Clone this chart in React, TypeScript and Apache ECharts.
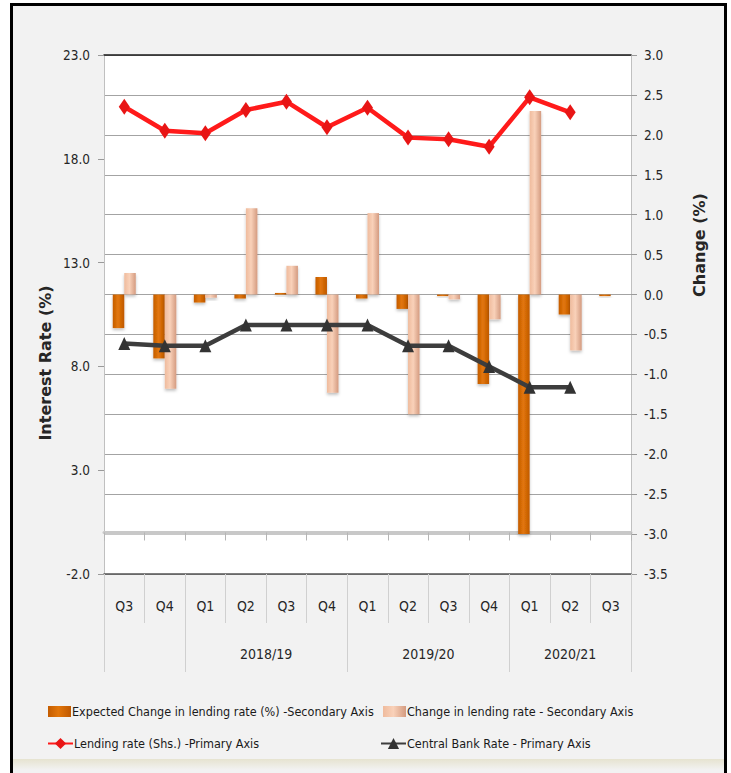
import React, { useEffect, useRef } from 'react';
import * as echarts from 'echarts';

// ---- data ----
const quarters = ['Q3', 'Q4', 'Q1', 'Q2', 'Q3', 'Q4', 'Q1', 'Q2', 'Q3', 'Q4', 'Q1', 'Q2', 'Q3'];
const fiscalYearOfQuarter = ['', '', '2018/19', '2018/19', '2018/19', '2018/19', '2019/20', '2019/20', '2019/20', '2019/20', '2020/21', '2020/21', '2020/21'];
const expectedChange = [-0.42, -0.8, -0.1, -0.05, 0.02, 0.22, -0.05, -0.18, -0.02, -1.12, -3.0, -0.25, -0.02];
const actualChange = [0.27, -1.18, -0.04, 1.08, 0.36, -1.23, 1.02, -1.5, -0.06, -0.31, 2.3, -0.7, null];
const lendingRate = [20.51, 19.35, 19.23, 20.35, 20.75, 19.52, 20.46, 19.02, 18.94, 18.58, 20.96, 20.24, null];
const centralBankRate = [9.1, 9.0, 9.0, 10.0, 10.0, 10.0, 10.0, 9.0, 9.0, 8.0, 7.0, 7.0, null];
const seriesNames = [
  'Expected Change in lending rate (%) -Secondary Axis',
  'Change in lending rate - Secondary Axis',
  'Lending rate (Shs.) -Primary Axis',
  'Central Bank Rate - Primary Axis',
];

const FONT = "'DejaVu Sans Condensed', 'Liberation Sans Narrow', 'Arial Narrow', sans-serif";
const TITLE_FONT = "'DejaVu Sans', Verdana, sans-serif";

function yearGroups() {
  const groups: { label: string; start: number; end: number }[] = [];
  fiscalYearOfQuarter.forEach((y, i) => {
    const last = groups[groups.length - 1];
    if (last && last.label === y) last.end = i + 1;
    else groups.push({ label: y, start: i, end: i + 1 });
  });
  return groups;
}

export default function App() {
  const ref = useRef<HTMLDivElement>(null);
  useEffect(() => {
    if (!ref.current) return;
    const chart = echarts.init(ref.current, undefined, { renderer: 'svg' });
    const groups = yearGroups();
    const sepValues = [...groups.map((g) => g.start), quarters.length];
    const labelGroups = groups.filter((g) => g.label);
    const centers = labelGroups.map((g) => (g.start + g.end) / 2);
    const numStyle = { fontFamily: FONT, fontSize: 13.5, color: '#262626' };
    const catStyle = { fontFamily: FONT, fontSize: 14, color: '#262626' };
    // split line colours (per tick from -3.5 upward); the one under the category axis line is lighter
    const rightMin = -3.5;
    const rightMax = 3;
    const rightStep = 0.5;
    const nLines = Math.round((rightMax - rightMin) / rightStep) + 1;
    const splitColors = Array.from({ length: nLines }, (_, i) => (i === 1 ? '#c8c8c8' : '#a3a3a3'));

    const orange = new echarts.graphic.LinearGradient(0, 0, 1, 0, [
      { offset: 0, color: '#c45c00' },
      { offset: 0.45, color: '#e2760a' },
      { offset: 1, color: '#bf5800' },
    ]);
    const pale = new echarts.graphic.LinearGradient(0, 0, 1, 0, [
      { offset: 0, color: '#efbb9d' },
      { offset: 0.45, color: '#f9d1b9' },
      { offset: 1, color: '#d49b80' },
    ]);

    const option: any = {
      animation: false,
      backgroundColor: '#ffffff',
      graphic: [
        {
          type: 'rect',
          z: -100,
          shape: { x: 11.5, y: 4.5, width: 714, height: 800 },
          style: { fill: '#f2f2f2', stroke: '#000', lineWidth: 3 },
        },
        {
          type: 'rect',
          z: -90,
          shape: { x: 13, y: 759, width: 711, height: 11 },
          style: {
            fill: new echarts.graphic.LinearGradient(0, 0, 0, 1, [
              { offset: 0, color: '#e6e3d0' },
              { offset: 1, color: '#f2f2f2' },
            ]),
          },
        },
        {
          type: 'text',
          x: 45,
          y: 363,
          rotation: Math.PI / 2,
          style: {
            text: 'Interest Rate (%)',
            fontFamily: TITLE_FONT,
            fontSize: 16,
            fontWeight: 'bold',
            fill: '#262626',
            align: 'center',
            verticalAlign: 'middle',
          },
        },
        {
          type: 'text',
          x: 699,
          y: 245,
          rotation: Math.PI / 2,
          style: {
            text: 'Change (%)',
            fontFamily: TITLE_FONT,
            fontSize: 16,
            fontWeight: 'bold',
            fill: '#262626',
            align: 'center',
            verticalAlign: 'middle',
          },
        },
      ],
      legend: [
        { name: seriesNames[0], left: 48, top: 705, icon: 'rect', itemWidth: 23, itemHeight: 11 },
        { name: seriesNames[1], left: 383, top: 705, icon: 'rect', itemWidth: 23, itemHeight: 11 },
        { name: seriesNames[2], left: 47, top: 737, itemWidth: 25, itemHeight: 14 },
        { name: seriesNames[3], left: 380, top: 737, itemWidth: 25, itemHeight: 14 },
      ].map((l) => ({
        data: [l.name],
        left: l.left,
        top: l.top,
        icon: l.icon,
        itemWidth: l.itemWidth,
        itemHeight: l.itemHeight,
        padding: 0,
        selectedMode: false,
        textStyle: { fontFamily: FONT, fontSize: 12.5, color: '#1a1a1a', padding: [0, 0, 0, -4] },
      })),
      grid: [
        { left: 104, top: 55, width: 527, height: 519, show: true, backgroundColor: '#ffffff', borderWidth: 0, outerBoundsMode: 'none' },
        { left: 104, top: 573, width: 527, height: 1, outerBoundsMode: 'none' },
        { left: 104, top: 573, width: 527, height: 1, outerBoundsMode: 'none' },
      ],
      xAxis: [
        {
          type: 'category',
          gridIndex: 0,
          data: quarters,
          position: 'bottom',
          axisLine: { onZero: true, onZeroAxisIndex: 0, lineStyle: { color: '#c8c8c8', width: 3 } },
          axisTick: { show: true, interval: 0, length: 8, lineStyle: { color: '#b5b5b5' } },
          axisLabel: { show: false },
          splitLine: { show: false },
        },
        {
          type: 'category',
          gridIndex: 0,
          data: quarters,
          position: 'top',
          axisLine: { onZero: false, lineStyle: { color: '#1a1a1a', width: 1.5 } },
          axisTick: { show: false },
          axisLabel: { show: false },
        },
        {
          type: 'category',
          gridIndex: 1,
          data: quarters,
          position: 'bottom',
          axisLine: { onZero: false, lineStyle: { color: '#555555', width: 1.5 } },
          axisTick: { show: true, interval: 0, length: 49, lineStyle: { color: '#d0d0d0' } },
          axisLabel: { interval: 0, margin: 25, ...catStyle },
        },
        {
          type: 'value',
          gridIndex: 2,
          min: 0,
          max: quarters.length,
          position: 'bottom',
          axisLine: { show: false },
          splitLine: { show: false },
          axisTick: { show: true, customValues: sepValues, length: 98, lineStyle: { color: '#d0d0d0' } },
          axisLabel: {
            customValues: centers,
            formatter: (v: number) => {
              const i = centers.indexOf(v);
              return i >= 0 ? labelGroups[i].label : '';
            },
            margin: 73,
            ...catStyle,
          },
        },
      ],
      yAxis: [
        {
          type: 'value',
          gridIndex: 0,
          position: 'left',
          min: -2,
          max: 23,
          interval: 5,
          axisLine: { show: true, lineStyle: { color: '#c0c0c0' } },
          axisTick: { show: true, length: 6, lineStyle: { color: '#9a9a9a' } },
          axisLabel: { formatter: (v: number) => v.toFixed(1), margin: 14, ...numStyle },
          splitLine: { show: false },
        },
        {
          type: 'value',
          gridIndex: 0,
          position: 'right',
          min: rightMin,
          max: rightMax,
          interval: rightStep,
          axisLine: { show: true, lineStyle: { color: '#c0c0c0' } },
          axisTick: { show: true, length: 6, lineStyle: { color: '#9a9a9a' } },
          axisLabel: { formatter: (v: number) => v.toFixed(1), margin: 13, ...numStyle },
          splitLine: { show: true, lineStyle: { color: splitColors, width: 1 } },
        },
        { type: 'value', gridIndex: 1, show: false },
        { type: 'value', gridIndex: 2, show: false },
      ],
      series: [
        {
          name: seriesNames[0],
          type: 'bar',
          xAxisIndex: 0,
          yAxisIndex: 1,
          data: expectedChange,
          barWidth: 11.5,
          barGap: '0%',
          itemStyle: { color: orange, shadowColor: 'rgba(0,0,0,0.25)', shadowBlur: 3, shadowOffsetY: 2 },
        },
        {
          name: seriesNames[1],
          type: 'bar',
          xAxisIndex: 0,
          yAxisIndex: 1,
          data: actualChange,
          barWidth: 11.5,
          barGap: '0%',
          itemStyle: { color: pale, shadowColor: 'rgba(0,0,0,0.25)', shadowBlur: 3, shadowOffsetY: 2 },
        },
        {
          name: seriesNames[2],
          type: 'line',
          xAxisIndex: 0,
          yAxisIndex: 0,
          data: lendingRate,
          symbol: 'diamond',
          symbolSize: [11, 16],
          showSymbol: true,
          lineStyle: { color: '#ff1a1a', width: 4.5 },
          itemStyle: { color: '#e81515' },
        },
        {
          name: seriesNames[3],
          type: 'line',
          xAxisIndex: 0,
          yAxisIndex: 0,
          data: centralBankRate,
          symbol: 'triangle',
          symbolSize: [12, 13],
          showSymbol: true,
          lineStyle: { color: '#3d3d3d', width: 4.5 },
          itemStyle: { color: '#333333' },
        },
      ],
    };
    chart.setOption(option);
    return () => chart.dispose();
  }, []);
  return <div ref={ref} style={{ position: 'absolute', left: 0, top: 0, width: 731, height: 773 }} />;
}
